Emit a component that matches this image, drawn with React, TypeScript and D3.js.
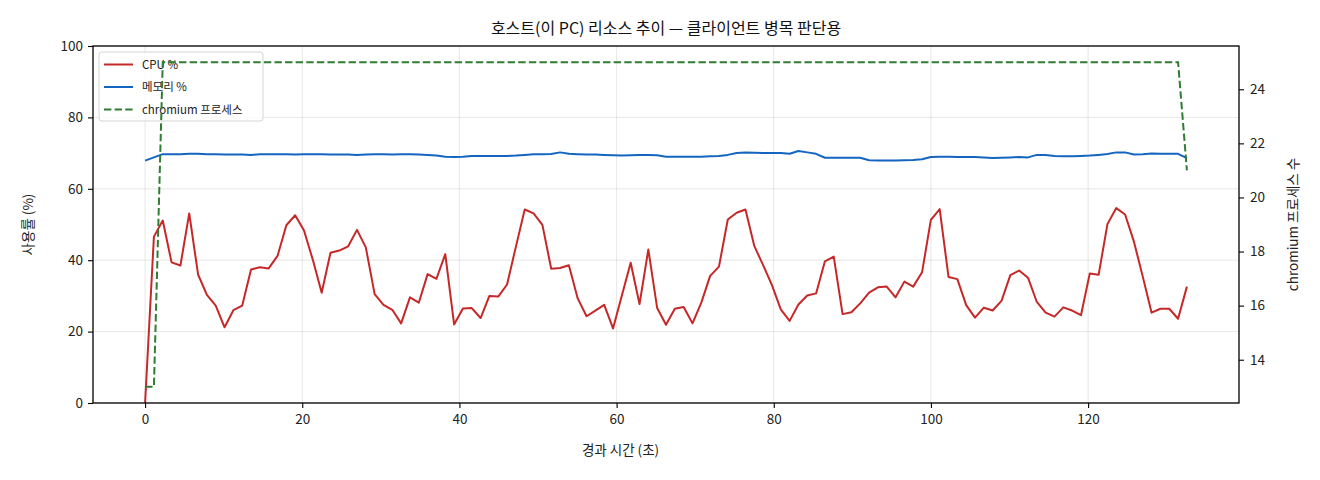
import React, { useEffect, useRef } from 'react';
import * as d3 from 'd3';

// sampling interval (s) between rows of the log
const SAMPLE_SEC = 1.1235;

const cpuPct = [
  0, 46.6, 51.1, 39.4, 38.5, 53.1, 36.0, 30.3, 27.3, 21.2,
  26.0, 27.3, 37.4, 38.0, 37.7, 41.2, 49.8, 52.6, 48.3, 40.1,
  30.9, 42.1, 42.7, 43.9, 48.5, 43.6, 30.5, 27.5, 26.1, 22.3,
  29.6, 28.1, 36.1, 34.8, 41.7, 22.0, 26.5, 26.6, 23.8, 30.0,
  29.8, 33.2, 43.8, 54.2, 53.1, 49.9, 37.6, 37.8, 38.6, 29.3,
  24.3, 25.9, 27.5, 20.9, 30.1, 39.3, 27.7, 43.0, 26.6, 21.9,
  26.4, 26.9, 22.3, 28.1, 35.6, 38.2, 51.4, 53.3, 54.2, 44.0,
  38.6, 33.0, 26.2, 23.0, 27.6, 30.1, 30.7, 39.7, 41.0, 24.9,
  25.4, 27.9, 30.9, 32.4, 32.6, 29.6, 34.0, 32.6, 36.6, 51.3,
  54.3, 35.3, 34.7, 27.4, 23.9, 26.7, 25.9, 28.6, 35.8, 37.1,
  35.1, 28.3, 25.3, 24.2, 26.8, 25.9, 24.6, 36.3, 35.9, 50.1,
  54.6, 52.8, 45.2, 35.4, 25.3, 26.4, 26.4, 23.6, 32.6,
];

const memPct = [
  67.9, 68.8, 69.7, 69.7, 69.7, 69.8, 69.8, 69.7, 69.7, 69.6,
  69.6, 69.6, 69.5, 69.7, 69.7, 69.7, 69.7, 69.6, 69.7, 69.7,
  69.7, 69.6, 69.6, 69.6, 69.5, 69.6, 69.7, 69.7, 69.6, 69.7,
  69.7, 69.6, 69.5, 69.3, 69.0, 68.9, 69.0, 69.2, 69.2, 69.2,
  69.2, 69.2, 69.3, 69.5, 69.7, 69.7, 69.75, 70.2, 69.8, 69.7,
  69.6, 69.6, 69.5, 69.4, 69.3, 69.4, 69.5, 69.5, 69.4, 69.0,
  69.0, 69.0, 69.0, 69.0, 69.1, 69.2, 69.5, 70.0, 70.2, 70.1,
  70.0, 70.0, 70.0, 69.8, 70.6, 70.2, 69.8, 68.7, 68.7, 68.7,
  68.7, 68.7, 68.0, 67.9, 67.9, 67.9, 68.0, 68.1, 68.3, 68.9,
  69.0, 69.0, 68.9, 68.9, 68.9, 68.8, 68.6, 68.7, 68.8, 68.9,
  68.8, 69.5, 69.5, 69.2, 69.1, 69.1, 69.2, 69.3, 69.5, 69.75,
  70.2, 70.2, 69.6, 69.7, 69.9, 69.8, 69.8, 69.8, 68.6,
];

// chromium process count: 13 at start, 25 steady, 21 at the last sample
const procCount = [
  13, 13,
  ...Array(116).fill(25),
  21,
];

const xTicks = [0, 20, 40, 60, 80, 100, 120];
const yTicks = [0, 20, 40, 60, 80, 100];
const y2Ticks = [14, 16, 18, 20, 22, 24];

const FONT = "'Noto Sans CJK KR', 'Noto Sans', sans-serif";
const CPU_COLOR = '#c62828';
const MEM_COLOR = '#1565c0';
const PROC_COLOR = '#2e7d32';
const DASH = '7.4,3.2';

const App: React.FC = () => {
  const svgRef = useRef<SVGSVGElement>(null);
  const width = 1320;
  const height = 480;

  useEffect(() => {
    document.body.style.margin = '0';
    if (!svgRef.current) return;
    const svg = d3.select(svgRef.current);
    svg.selectAll('*').remove();

    const margin = { top: 46, right: 81, bottom: 77, left: 93 };
    const innerWidth = width - margin.left - margin.right;
    const innerHeight = height - margin.top - margin.bottom;

    const times = cpuPct.map((_, i) => i * SAMPLE_SEC);
    const tMax = d3.max(times) || 0;
    const pad = tMax * 0.05;

    const xScale = d3.scaleLinear().domain([-pad, tMax + pad]).range([0, innerWidth]);
    const yScale = d3.scaleLinear().domain([0, 100]).range([innerHeight, 0]);
    const pMin = d3.min(procCount) || 0;
    const pMax = d3.max(procCount) || 0;
    const pPad = (pMax - pMin) * 0.05;
    const y2Scale = d3.scaleLinear().domain([pMin - pPad, pMax + pPad]).range([innerHeight, 0]);

    const g = svg.append('g').attr('transform', `translate(${margin.left},${margin.top})`);

    // Grid
    g.append('g')
      .selectAll('line')
      .data(xTicks)
      .enter()
      .append('line')
      .attr('x1', d => xScale(d))
      .attr('x2', d => xScale(d))
      .attr('y1', 0)
      .attr('y2', innerHeight)
      .attr('stroke', '#b0b0b0')
      .attr('stroke-opacity', 0.3)
      .attr('stroke-width', 1);
    g.append('g')
      .selectAll('line')
      .data(yTicks)
      .enter()
      .append('line')
      .attr('x1', 0)
      .attr('x2', innerWidth)
      .attr('y1', d => yScale(d))
      .attr('y2', d => yScale(d))
      .attr('stroke', '#b0b0b0')
      .attr('stroke-opacity', 0.3)
      .attr('stroke-width', 1);

    // Lines
    const line = (ys: d3.ScaleLinear<number, number>) =>
      d3.line<number>()
        .x((_, i) => xScale(times[i]))
        .y(d => ys(d));

    g.append('path')
      .datum(cpuPct)
      .attr('d', line(yScale))
      .attr('fill', 'none')
      .attr('stroke', CPU_COLOR)
      .attr('stroke-width', 2)
      .attr('stroke-linejoin', 'round');

    g.append('path')
      .datum(memPct)
      .attr('d', line(yScale))
      .attr('fill', 'none')
      .attr('stroke', MEM_COLOR)
      .attr('stroke-width', 2)
      .attr('stroke-linejoin', 'round');

    // Legend (belongs to the left axes, so the twin-axis line is drawn over it)
    const legendItems = [
      { label: 'CPU %', color: CPU_COLOR, dash: null },
      { label: '메모리 %', color: MEM_COLOR, dash: null },
      { label: 'chromium 프로세스', color: PROC_COLOR, dash: DASH },
    ];
    const legend = g.append('g').attr('transform', 'translate(6,6)');
    legend.append('rect')
      .attr('width', 164)
      .attr('height', 69)
      .attr('rx', 3)
      .attr('fill', 'rgba(255,255,255,0.8)')
      .attr('stroke', '#d6d6d6');
    legendItems.forEach((item, i) => {
      const ly = 12.5 + i * 22.5;
      legend.append('line')
        .attr('x1', 5)
        .attr('x2', 34)
        .attr('y1', ly)
        .attr('y2', ly)
        .attr('stroke', item.color)
        .attr('stroke-width', 2)
        .attr('stroke-dasharray', item.dash);
      legend.append('text')
        .attr('x', 43)
        .attr('y', ly + 4)
        .style('font-family', FONT)
        .style('font-size', '11.5px')
        .attr('fill', '#222')
        .text(item.label);
    });

    g.append('path')
      .datum(procCount)
      .attr('d', line(y2Scale))
      .attr('fill', 'none')
      .attr('stroke', PROC_COLOR)
      .attr('stroke-width', 2)
      .attr('stroke-dasharray', DASH);

    // Axes
    const styleAxis = (sel: d3.Selection<SVGGElement, unknown, null, undefined>) => {
      sel.select('.domain').remove();
      sel.selectAll('line').attr('stroke', '#000').attr('stroke-width', 1.1);
      sel.selectAll('text')
        .attr('fill', '#222')
        .style('font-family', FONT)
        .style('font-size', '13.5px');
    };

    g.append('g')
      .attr('transform', `translate(0,${innerHeight})`)
      .call(d3.axisBottom(xScale).tickValues(xTicks).tickSize(5).tickPadding(6))
      .call(styleAxis);

    g.append('g')
      .call(d3.axisLeft(yScale).tickValues(yTicks).tickSize(5).tickPadding(5))
      .call(styleAxis);

    g.append('g')
      .attr('transform', `translate(${innerWidth},0)`)
      .call(d3.axisRight(y2Scale).tickValues(y2Ticks).tickSize(5).tickPadding(6))
      .call(styleAxis);

    // Frame
    g.append('rect')
      .attr('width', innerWidth)
      .attr('height', innerHeight)
      .attr('fill', 'none')
      .attr('stroke', '#000')
      .attr('stroke-width', 1.3);

    // Axis labels
    svg.append('text')
      .attr('x', margin.left + xScale(60.5))
      .attr('y', 455)
      .attr('text-anchor', 'middle')
      .style('font-family', FONT)
      .style('font-size', '13.5px')
      .attr('fill', '#222')
      .text('경과 시간 (초)');

    svg.append('text')
      .attr('transform', `translate(33,${margin.top + innerHeight / 2}) rotate(-90)`)
      .attr('text-anchor', 'middle')
      .style('font-family', FONT)
      .style('font-size', '13.5px')
      .attr('fill', '#222')
      .text('사용률 (%)');

    svg.append('text')
      .attr('transform', `translate(1298,${margin.top + innerHeight / 2}) rotate(-90)`)
      .attr('text-anchor', 'middle')
      .style('font-family', FONT)
      .style('font-size', '13.5px')
      .attr('fill', '#222')
      .text('chromium 프로세스 수');

    // Title
    svg.append('text')
      .attr('x', margin.left + innerWidth / 2)
      .attr('y', 34)
      .attr('text-anchor', 'middle')
      .style('font-family', FONT)
      .style('font-size', '16px')
      .attr('fill', '#111')
      .text('호스트(이 PC) 리소스 추이 — 클라이언트 병목 판단용');
  }, []);

  return (
    <svg
      ref={svgRef}
      width={width}
      height={height}
      style={{ display: 'block', background: '#fff' }}
    />
  );
};

export default App;
